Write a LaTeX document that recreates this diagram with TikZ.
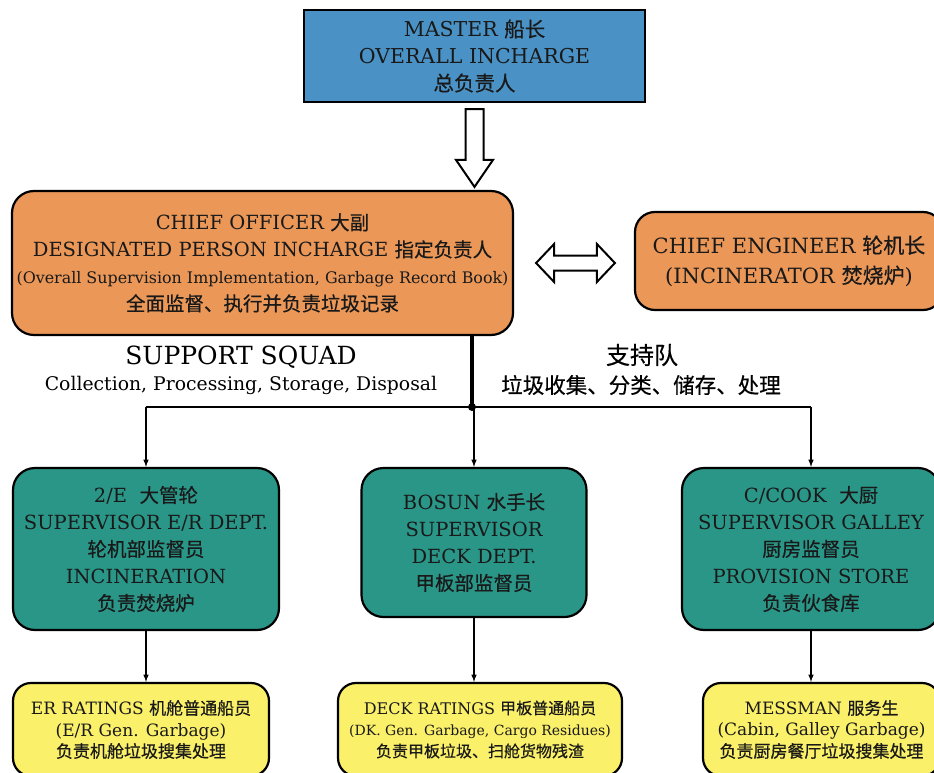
\documentclass[tikz,border=0pt]{standalone}
\usepackage{fontspec}
\setmainfont{DejaVu Serif}
\newfontfamily\cjk{Noto Sans CJK SC}[FakeBold=0.5]
\newcommand{\zh}[1]{{\cjk #1}}
\usepackage{tikz}
\usetikzlibrary{calc, arrows}

\definecolor{masterblue}{RGB}{74,146,197}
\definecolor{officerorange}{RGB}{234,151,88}
\definecolor{superteal}{RGB}{42,150,135}
\definecolor{ratingyellow}{RGB}{250,240,105}

\begin{document}
\begin{tikzpicture}[x=1pt, y=-1pt,
        box/.style={draw=black, line width=2.2pt, align=center, inner sep=0pt, text=black!90},
        bigtext/.style={font=\fontsize{19.5}{27}\selectfont},
        smalltext/.style={font=\fontsize{17}{21.5}\selectfont},
        hollow/.style={draw=black, line width=2pt, fill=white, line join=miter},
        flow/.style={-latex, line width=1.5pt}]
    \useasboundingbox (0,0) rectangle (934,773);

    % top of the chain
    \node[box, font=\fontsize{20.5}{27}\selectfont, fill=masterblue, minimum width=341pt, minimum height=92pt] (master) at (474.5,56)
        {MASTER \zh{船长}\\OVERALL INCHARGE\\\zh{总负责人}};
    \node[box, bigtext, fill=officerorange, rounded corners=22pt, minimum width=501pt, minimum height=144pt] (chief) at (262.5,263)
        {CHIEF OFFICER \zh{大副}\\DESIGNATED PERSON INCHARGE \zh{指定负责人}\\
         {\fontsize{15.9}{27}\selectfont (Overall Supervision Implementation, Garbage Record Book)}\\
         \zh{全面监督、执行并负责垃圾记录}};
    \node[box, font=\fontsize{21}{30}\selectfont, fill=officerorange, rounded corners=20pt, minimum width=308pt, minimum height=98pt] (engineer) at (789,261)
        {CHIEF ENGINEER \zh{轮机长}\\(INCINERATOR \zh{焚烧炉})};

    % supervisors
    \node[box, bigtext, fill=superteal, rounded corners=22pt, minimum width=266pt, minimum height=162pt] (er) at (146,549)
        {2/E\ \ \zh{大管轮}\\SUPERVISOR E/R DEPT.\\\zh{轮机部监督员}\\INCINERATION\\\zh{负责焚烧炉}};
    \node[box, bigtext, fill=superteal, rounded corners=22pt, minimum width=225pt, minimum height=149pt] (bosun) at (474,542.5)
        {BOSUN \zh{水手长}\\SUPERVISOR\\DECK DEPT.\\\zh{甲板部监督员}};
    \node[box, bigtext, fill=superteal, rounded corners=22pt, minimum width=258pt, minimum height=162pt] (cook) at (811,549)
        {C/COOK\ \ \zh{大厨}\\SUPERVISOR GALLEY\\\zh{厨房监督员}\\PROVISION STORE\\\zh{负责伙食库}};

    % ratings
    \node[box, smalltext, fill=ratingyellow, rounded corners=18pt, minimum width=256pt, minimum height=93pt] (errat) at (141,729.5)
        {ER RATINGS \zh{机舱普通船员}\\(E/R Gen. Garbage)\\\zh{负责机舱垃圾搜集处理}};
    \node[box, font=\fontsize{16}{21.5}\selectfont, fill=ratingyellow, rounded corners=18pt, minimum width=284pt, minimum height=93pt] (deckrat) at (480,729.5)
        {DECK RATINGS \zh{甲板普通船员}\\{\fontsize{14}{21.5}\selectfont (DK. Gen. Garbage, Cargo Residues)}\\\zh{负责甲板垃圾、扫舱货物残渣}};
    \node[box, smalltext, fill=ratingyellow, rounded corners=18pt, minimum width=237pt, minimum height=93pt] (mess) at (821.5,729.5)
        {MESSMAN \zh{服务生}\\(Cabin, Galley Garbage)\\\zh{负责厨房餐厅垃圾搜集处理}};

    % support squad labels
    \node[font=\fontsize{25}{30}\selectfont] (squad) at (241,357) {SUPPORT SQUAD};
    \node[font=\fontsize{18.8}{26}\selectfont] (squadtask) at (241,385) {Collection, Processing, Storage, Disposal};
    \node[font=\fontsize{24}{30}\selectfont] (squadzh) at (642,355) {\zh{支持队}};
    \node[font=\fontsize{21.5}{26}\selectfont] (squadzhtask) at (641,385) {\zh{垃圾收集、分类、储存、处理}};

    % hollow arrows
    \draw[hollow] let \p1=(master.south), \p2=(master.south |- chief.north) in
        (\x1-9pt,\y1-6pt) -- (\x1-9pt,\y2+30pt) -- (\x1-18.5pt,\y2+30pt) -- (\x1,\y2+3pt)
        -- (\x1+18.5pt,\y2+30pt) -- (\x1+9pt,\y2+30pt) -- (\x1+9pt,\y1-6pt) -- cycle;
    \draw[hollow] let \p1=(chief.east), \p2=(engineer.west) in
        (\x1+22pt,\y1) -- (\x1+40pt,\y1+19pt) -- (\x1+40pt,\y1+7.5pt) -- (\x2-37pt,\y1+7.5pt)
        -- (\x2-37pt,\y1+19pt) -- (\x2-19pt,\y1) -- (\x2-37pt,\y1-19pt) -- (\x2-37pt,\y1-7.5pt)
        -- (\x1+40pt,\y1-7.5pt) -- (\x1+40pt,\y1-19pt) -- cycle;

    % branching
    \coordinate (hub) at (472,407);
    \draw[line width=4pt] (chief.south -| hub) -- (hub);
    \fill (hub) circle (4pt);
    \draw[line width=1.5pt] (er.north |- hub) -- (cook.north |- hub);
    \foreach \dept in {er,bosun,cook}
        \draw[flow] (\dept.north |- hub) -- (\dept.north);
    \foreach \lead/\crew in {er/errat, bosun/deckrat, cook/mess}
        \draw[flow] (\lead.south) -- (\lead.south |- \crew.north);
\end{tikzpicture}
\end{document}
